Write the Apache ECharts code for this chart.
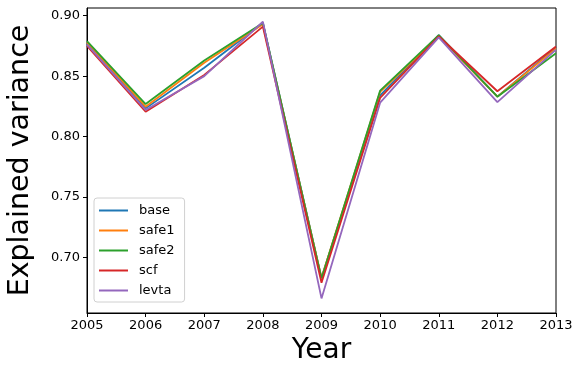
<!DOCTYPE html>
<html>
<head>
<meta charset="utf-8">
<script src="https://cdn.jsdelivr.net/npm/echarts@6/dist/echarts.min.js"></script>
<style>
  html, body { margin: 0; padding: 0; background: #fff; }
  #chart { width: 576px; height: 366px; }
</style>
</head>
<body>
<div id="chart"></div>
<script>
// Explained variance per year for each model variant
const years = [2005, 2006, 2007, 2008, 2009, 2010, 2011, 2012, 2013];
const base  = [0.877, 0.8233, 0.857, 0.894, 0.683, 0.834, 0.884, 0.833, 0.874];
const safe1 = [0.878, 0.8247, 0.861, 0.893, 0.683, 0.837, 0.883, 0.833, 0.873];
const safe2 = [0.879, 0.8269, 0.863, 0.894, 0.6825, 0.838, 0.884, 0.833, 0.869];
const scf   = [0.875, 0.8205, 0.851, 0.891, 0.679, 0.832, 0.883, 0.8375, 0.8745];
const levta = [0.876, 0.822, 0.850, 0.895, 0.666, 0.828, 0.882, 0.8285, 0.872];
const yTicks = [0.70, 0.75, 0.80, 0.85, 0.90];

const seriesDefs = [
  { name: 'base',  data: base,  color: '#1f77b4' },
  { name: 'safe1', data: safe1, color: '#ff7f0e' },
  { name: 'safe2', data: safe2, color: '#2ca02c' },
  { name: 'scf',   data: scf,   color: '#d62728' },
  { name: 'levta', data: levta, color: '#9467bd' }
];

const font = 'DejaVu Sans';
const chart = echarts.init(document.getElementById('chart'), null, { renderer: 'canvas' });

chart.setOption({
  animation: false,
  textStyle: { fontFamily: font },
  grid: {
    left: 87, right: 20, top: 8, bottom: 53,
    containLabel: false,
    outerBoundsMode: 'none',
    show: true, borderColor: '#000', borderWidth: 1, backgroundColor: 'transparent'
  },
  legend: {
    orient: 'vertical',
    left: 94, top: 198,
    backgroundColor: '#fff',
    borderColor: '#d0d0d0', borderWidth: 1, borderRadius: 3,
    padding: [5, 10, 4, 5],
    itemGap: 5,
    itemWidth: 29, itemHeight: 2,
    icon: 'rect',
    textStyle: { fontFamily: font, fontSize: 13, color: '#000', padding: [0, 0, 0, 6], lineHeight: 15 },
    data: seriesDefs.map(s => s.name)
  },
  xAxis: {
    type: 'value',
    min: 2005, max: 2013, interval: 1,
    name: 'Year', nameLocation: 'middle', nameGap: 24,
    nameTextStyle: { fontFamily: font, fontSize: 28, color: '#000' },
    axisLine: { show: true, lineStyle: { color: '#000', width: 1 } },
    axisTick: { show: true, inside: false, length: 4, lineStyle: { color: '#000' } },
    axisLabel: { fontFamily: font, fontSize: 13, color: '#000', margin: 6, formatter: v => String(v) },
    splitLine: { show: false }
  },
  yAxis: {
    type: 'value',
    min: 0.6539, max: 0.9064,
    name: 'Explained variance', nameLocation: 'middle', nameGap: 52,
    nameTextStyle: { fontFamily: font, fontSize: 28.5, color: '#000' },
    axisLine: { show: true, lineStyle: { color: '#000', width: 1 } },
    axisTick: { show: true, length: 4, lineStyle: { color: '#000' }, customValues: yTicks },
    axisLabel: {
      fontFamily: font, fontSize: 13, color: '#000', margin: 7,
      customValues: yTicks, formatter: v => v.toFixed(2)
    },
    splitLine: { show: false }
  },
  series: seriesDefs.map(s => ({
    name: s.name,
    type: 'line',
    data: years.map((y, i) => [y, s.data[i]]),
    showSymbol: false,
    symbol: 'none',
    lineStyle: { color: s.color, width: 1.8 },
    itemStyle: { color: s.color }
  }))
});
</script>
</body>
</html>
